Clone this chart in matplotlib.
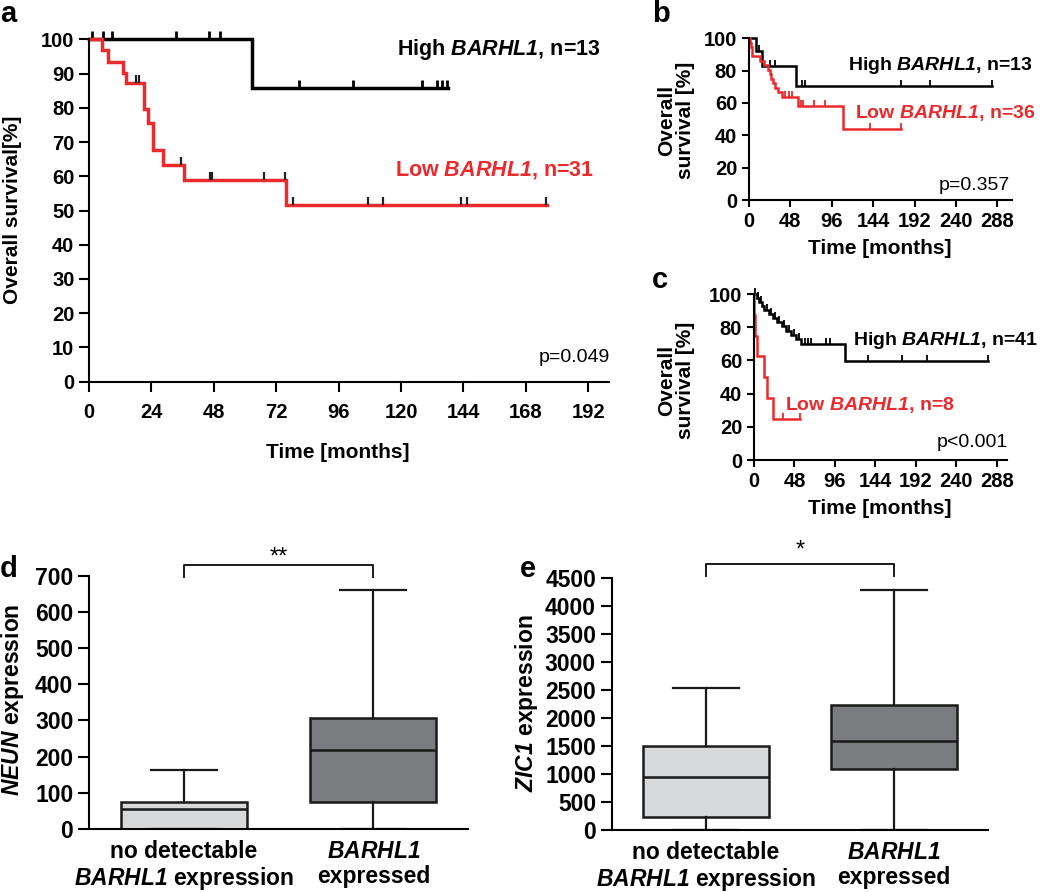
import numpy as np
import matplotlib.pyplot as plt
from matplotlib.path import Path

plt.rcParams['font.family'] = ['Liberation Sans', 'DejaVu Sans']
plt.rcParams['font.weight'] = 'bold'
# gene names in bold italic via mathtext (digits too, so rm = bold italic)
plt.rcParams['mathtext.fontset'] = 'custom'
plt.rcParams['mathtext.it'] = 'Liberation Sans:italic:bold'
plt.rcParams['mathtext.rm'] = 'Liberation Sans:italic:bold'
plt.rcParams['mathtext.bf'] = 'Liberation Sans:italic:bold'

RED = '#ea2a2c'

# ---- panel a (KM, cohort 1)
a_high_t = [62.7]
a_high_s = [85.7]
a_high_end = 138
a_high_cens = [1.2, 5.4, 8.8, 33.5, 46, 50.4, 80.8, 101.5, 128.2, 133.7, 135.6, 137.6]
a_low_t = [5, 7.3, 12.9, 14.2, 21, 22.7, 24.5, 28.3, 36.5, 75.6]
a_low_s = [96.8, 93.5, 90.3, 87.1, 79.5, 75.5, 67.7, 63.4, 59.0, 51.6]
a_low_end = 176
a_low_cens = [18.1, 19.3, 35.4, 46.7, 47.2, 67.2, 75.2, 78.6, 107.3, 113.2, 143, 145.3, 175.8]

# ---- panel b
b_high_t = [7.7, 14.7, 55]
b_high_s = [92.3, 83.0, 70.8]
b_high_end = 282
b_high_cens = [12, 24.4, 30, 62, 65, 176.6, 209.6, 282]
b_low_t = [0.8, 2.5, 4, 12.4, 17, 22, 24, 26, 28, 30, 34, 38, 57, 109]
b_low_s = [97.2, 94.4, 88.9, 86.1, 83.3, 80.6, 77.8, 75.0, 72.2, 69.4, 66.7, 63.9, 58.2, 44.0]
b_low_end = 176
b_low_cens = [42, 46, 50, 60, 63, 75, 88, 140, 176]

# ---- panel c
c_high_t = [3, 6, 9, 12, 18, 22, 27, 33, 38, 44, 50, 56, 108]
c_high_s = [97.6, 95.1, 92.7, 90.2, 87.8, 85.4, 82.9, 80.5, 78.0, 75.6, 73.0, 69.8, 59.6]
c_high_end = 277
c_high_cens = [1, 5, 8, 15, 20, 25, 30, 36, 42, 47, 53, 60, 64, 68, 85, 90, 135, 175, 205, 277]
c_low_t = [0.5, 1.5, 3, 12, 16, 22]
c_low_s = [87.5, 75.0, 62.5, 50.0, 37.5, 25.0]
c_low_end = 54
c_low_cens = [34, 54]

# ---- panel d / e boxplots (q1, median, q3, whiskers)
groups = ['no detectable\n$BARHL1$ expression', '$BARHL1$\nexpressed']
neun_q1 = [0, 75]
neun_med = [55, 217]
neun_q3 = [75, 306]
neun_lo = [0, 0]
neun_hi = [163, 662]
zic_q1 = [238, 1083]
zic_med = [948, 1598]
zic_q3 = [1499, 2237]
zic_lo = [0, 0]
zic_hi = [2535, 4290]
box_colors = ['#d8d9db', '#7b7c7f']

W, H = 1050, 892
fig = plt.figure(figsize=(W / 100, H / 100), dpi=100)


def box(l, t, r, b):
    return fig.add_axes([l / W, 1 - b / H, (r - l) / W, (b - t) / H])


def ftext(x, y, s, **kw):
    fig.text(x / W, 1 - y / H, s, **kw)


tick_mark = Path([(0, 0), (0, 1)])


def km(ax, t, s, end, cens, color, lw, mcolor, ms, mlw):
    x = [0] + list(t) + [end]
    y = [100] + list(s) + [s[-1]]
    ax.plot(x, y, drawstyle='steps-post', color=color, lw=lw, clip_on=False,
            solid_joinstyle='miter')
    idx = np.searchsorted(t, cens, side='right')
    sv = np.array([100] + list(s))[idx]
    ax.plot(cens, sv, ls='none', marker=tick_mark, ms=ms, mec=mcolor, mfc='none',
            mew=mlw, clip_on=False)


def style(ax, ticklen, fs):
    for sp in ['top', 'right']:
        ax.spines[sp].set_visible(False)
    for sp in ['left', 'bottom']:
        ax.spines[sp].set_linewidth(1.5)
    ax.tick_params(direction='out', length=ticklen, width=1.5, labelsize=fs)


# panel a
ax = box(89, 39.3, 609, 381.7)
km(ax, a_high_t, a_high_s, a_high_end, a_high_cens, 'black', 2.5, 'black', 12, 2)
km(ax, a_low_t, a_low_s, a_low_end, a_low_cens, RED, 2.5, '#222222', 12, 1.6)
ax.set_xlim(0, 200)
ax.set_ylim(0, 100)
ax.set_xticks(np.arange(0, 193, 24))
ax.set_yticks(np.arange(0, 101, 10))
style(ax, 7, 14.5)
ax.tick_params(axis='x', pad=8)
ftext(397, 55, 'High $BARHL1$, n=13', fontsize=15.5, va='baseline')
ftext(395, 175, 'Low $BARHL1$, n=31', fontsize=15.5, color=RED, va='baseline')
ftext(610, 362, 'p=0.049', fontsize=14, fontweight='normal', ha='right', va='baseline')
ftext(13, 210, 'Overall survival[%]', rotation=90, ha='center', va='center', fontsize=15)
ftext(338, 453, 'Time [months]', ha='center', va='center', fontsize=15)
ftext(0, 22, 'a', ha='left', va='baseline', fontsize=21)

# panel b
ax = box(749, 38.3, 1012, 200)
km(ax, b_high_t, b_high_s, b_high_end, b_high_cens, 'black', 1.8, 'black', 8, 1.3)
km(ax, b_low_t, b_low_s, b_low_end, b_low_cens, RED, 1.8, RED, 8, 1.3)
ax.set_xlim(0, 305)
ax.set_ylim(0, 100)
ax.set_xticks(np.arange(0, 289, 48))
ax.set_yticks(np.arange(0, 101, 20))
style(ax, 5, 14.5)
ftext(848, 70, 'High $BARHL1$, n=13', fontsize=14, va='baseline')
ftext(855, 118, 'Low $BARHL1$, n=36', fontsize=14, color=RED, va='baseline')
ftext(1010, 190, 'p=0.357', fontsize=14, fontweight='normal', ha='right', va='baseline')
ftext(676, 120, 'Overall\nsurvival [%]', rotation=90, ha='center', va='center',
      fontsize=15, linespacing=1.0)
ftext(880, 249, 'Time [months]', ha='center', va='center', fontsize=15)
ftext(652, 22, 'b', ha='left', va='baseline', fontsize=21)

# panel c
ax = box(754, 294, 1007, 460)
km(ax, c_high_t, c_high_s, c_high_end, c_high_cens, 'black', 1.8, 'black', 8, 1.3)
km(ax, c_low_t, c_low_s, c_low_end, c_low_cens, RED, 1.8, RED, 8, 1.3)
ax.set_xlim(0, 300)
ax.set_ylim(0, 100)
ax.set_xticks(np.arange(0, 289, 48))
ax.set_yticks(np.arange(0, 101, 20))
style(ax, 5, 14.5)
ftext(853, 345, 'High $BARHL1$, n=41', fontsize=14, va='baseline')
ftext(785, 410, 'Low $BARHL1$, n=8', fontsize=14, color=RED, va='baseline')
ftext(1008, 447, 'p<0.001', fontsize=14, fontweight='normal', ha='right', va='baseline')
ftext(676, 380, 'Overall\nsurvival [%]', rotation=90, ha='center', va='center',
      fontsize=15, linespacing=1.0)
ftext(880, 509, 'Time [months]', ha='center', va='center', fontsize=15)
ftext(652, 288, 'c', ha='left', va='baseline', fontsize=21)


def boxpanel(ax, q1, med, q3, lo, hi):
    stats = []
    for i in range(2):
        stats.append(dict(q1=q1[i], med=med[i], q3=q3[i], whislo=lo[i], whishi=hi[i],
                          fliers=[]))
    bp = ax.bxp(stats, positions=[1, 2], widths=0.665, patch_artist=True,
                showfliers=False,
                boxprops=dict(linewidth=1.8, edgecolor='#1a1a1a'),
                medianprops=dict(color='#1a1a1a', linewidth=1.8),
                whiskerprops=dict(color='#1a1a1a', linewidth=1.6),
                capprops=dict(color='#1a1a1a', linewidth=1.6),
                capwidths=0.35)
    for patch, c in zip(bp['boxes'], box_colors):
        patch.set_facecolor(c)
    ax.set_xlim(0.5, 2.5)
    ax.set_xticks([1, 2])
    ax.set_xticklabels(groups, fontsize=13.5, linespacing=1.1)
    style(ax, 8, 16.5)
    ax.tick_params(axis='x', length=0, pad=8)


# panel d
ax = box(89.3, 576, 468, 828.7)
boxpanel(ax, neun_q1, neun_med, neun_q3, neun_lo, neun_hi)
ax.set_ylim(0, 700)
ax.set_yticks(np.arange(0, 701, 100))
ax.plot([1, 1, 2, 2], [697, 730, 730, 697], color='#1a1a1a', lw=1.4, clip_on=False)
ax.text(1.5, 752, '**', ha='center', va='center', fontsize=17, fontweight='normal')
ftext(13, 700, '$NEUN$ expression', rotation=90, ha='center', va='center', fontsize=16.5)
ftext(0, 577, 'd', ha='left', va='baseline', fontsize=21)

# panel e
ax = box(612, 578.3, 988, 830)
boxpanel(ax, zic_q1, zic_med, zic_q3, zic_lo, zic_hi)
ax.set_ylim(0, 4500)
ax.set_yticks(np.arange(0, 4501, 500))
ax.plot([1, 1, 2, 2], [4542, 4755, 4755, 4542], color='#1a1a1a', lw=1.4, clip_on=False)
ax.text(1.5, 4990, '*', ha='center', va='center', fontsize=17, fontweight='normal')
ftext(527, 703, '$ZIC1$ expression', rotation=90, ha='center', va='center', fontsize=16.5)
ftext(520, 577, 'e', ha='left', va='baseline', fontsize=21)

fig.savefig('out.png', dpi=100)
